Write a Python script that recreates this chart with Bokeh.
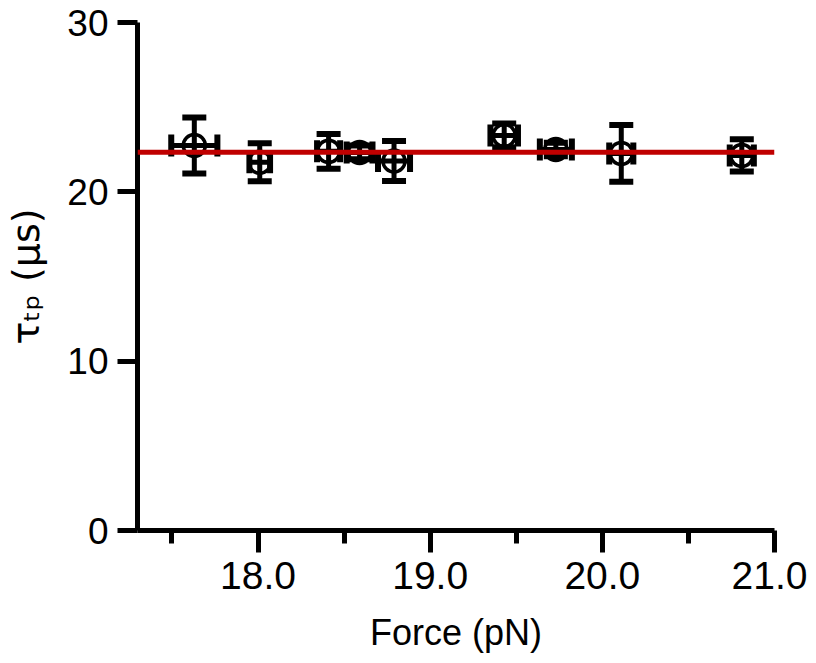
from bokeh.plotting import figure
from bokeh.models import (ColumnDataSource, Whisker, TeeHead, Span,
                          FixedTicker, Range1d)
from bokeh.embed import file_html
from bokeh.resources import INLINE

# ---- data ----
force = [17.63, 18.01, 18.41, 18.59, 18.79, 19.43, 19.73, 20.11, 20.81]
tau = [22.74, 21.75, 22.39, 22.33, 21.82, 23.33, 22.50, 22.27, 22.15]
tau_err = [1.65, 1.12, 1.03, 0.40, 1.18, 0.70, 0.40, 1.68, 0.95]
force_err = [0.134, 0.06, 0.067, 0.075, 0.093, 0.08, 0.093, 0.07, 0.07]
fit_tau = 22.34

x_ticks = [18.0, 19.0, 20.0, 21.0]
x_tick_labels = ["18.0", "19.0", "20.0", "21.0"]
x_minor = [17.5, 18.5, 19.5, 20.5]
y_ticks = [0, 10, 20, 30]

x_title = "Force (pN)"
y_title = "τₜₚ (μs)"

FONT = "Liberation Sans"

src = ColumnDataSource(dict(
    x=force, y=tau,
    yu=[a + b for a, b in zip(tau, tau_err)],
    yl=[a - b for a, b in zip(tau, tau_err)],
    xu=[a + b for a, b in zip(force, force_err)],
    xl=[a - b for a, b in zip(force, force_err)],
))

p = figure(frame_width=637, frame_height=508,
           min_border_left=137, min_border_right=33,
           min_border_top=22, min_border_bottom=125,
           x_range=Range1d(17.3, 21.0), y_range=Range1d(0, 30),
           output_backend="svg", toolbar_location=None)
p.outline_line_color = None
p.xgrid.visible = False
p.ygrid.visible = False
p.background_fill_color = "white"
p.border_fill_color = "white"

# axes
xa = p.xaxis[0]
xa.ticker = FixedTicker(ticks=x_ticks, minor_ticks=x_minor)
xa.major_label_overrides = {t: l for t, l in zip(x_ticks, x_tick_labels)}
xa.axis_line_width = 5
xa.major_tick_line_width = 5
xa.minor_tick_line_width = 5
xa.major_tick_out = 22
xa.major_tick_in = 0
xa.minor_tick_out = 13
xa.minor_tick_in = 0
xa.major_label_text_font = FONT
xa.major_label_text_font_size = "39px"
xa.major_label_text_color = "black"
xa.major_label_standoff = 9
xa.axis_label = x_title
xa.axis_label_text_font = FONT
xa.axis_label_text_font_size = "36px"
xa.axis_label_text_font_style = "normal"
xa.axis_label_text_color = "black"
xa.axis_label_standoff = 20

ya = p.yaxis[0]
ya.ticker = FixedTicker(ticks=y_ticks, minor_ticks=[])
ya.axis_line_width = 5
ya.major_tick_line_width = 5
ya.major_tick_out = 20
ya.major_tick_in = 0
ya.minor_tick_line_color = None
ya.major_label_text_font = FONT
ya.major_label_text_font_size = "37px"
ya.major_label_text_color = "black"
ya.major_label_standoff = 9
ya.axis_label = y_title
ya.axis_label_text_font = "DejaVu Sans"
ya.axis_label_text_font_size = "38px"
ya.axis_label_text_font_style = "normal"
ya.axis_label_text_color = "black"
ya.axis_label_standoff = 16

# points
p.scatter("x", "y", source=src, marker="circle", size=22,
          fill_color=None, line_color="black", line_width=3.5)

head = dict(line_color="black", line_width=6)
p.add_layout(Whisker(source=src, base="x", upper="yu", lower="yl",
                     line_color="black", line_width=5,
                     upper_head=TeeHead(size=24, **head),
                     lower_head=TeeHead(size=24, **head)))
p.add_layout(Whisker(source=src, dimension="width", base="y",
                     upper="xu", lower="xl",
                     line_color="black", line_width=5,
                     upper_head=TeeHead(size=22, **head),
                     lower_head=TeeHead(size=22, **head)))

# fit line
p.add_layout(Span(location=fit_tau, dimension="width", line_color="#C00000",
                  line_width=5, level="overlay"))

open("out.html", "w").write(file_html(p, INLINE))
